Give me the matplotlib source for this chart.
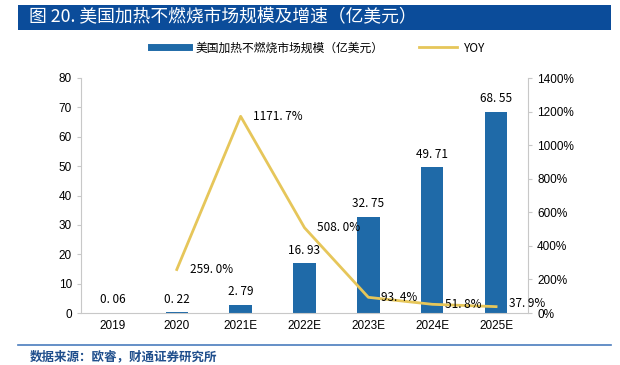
import matplotlib
matplotlib.use("Agg")
import matplotlib.pyplot as plt
from matplotlib.patches import Rectangle
from matplotlib.lines import Line2D

plt.rcParams['font.family'] = ['Liberation Sans', 'Noto Sans CJK SC', 'DejaVu Sans']

categories = ["2019", "2020", "2021E", "2022E", "2023E", "2024E", "2025E"]
market = [0.06, 0.22, 2.79, 16.93, 32.75, 49.71, 68.55]
yoy_cats = ["2020", "2021E", "2022E", "2023E", "2024E", "2025E"]
yoy = [259.0, 1171.7, 508.0, 93.4, 51.8, 37.9]
left_ticks = [0, 10, 20, 30, 40, 50, 60, 70, 80]
right_ticks = [0, 200, 400, 600, 800, 1000, 1200, 1400]

bar_color = "#1F6AA8"
line_color = "#E6C65A"
W, H = 620, 365
fig = plt.figure(figsize=(W/100, H/100), dpi=100)

# title bar
fig.patches.append(Rectangle((18/W, 1-30/H), (611-18)/W, 25/H, transform=fig.transFigure,
                             facecolor="#0B4C9A", edgecolor="none"))
fig.text(29/W, 1-17.5/H, "图 20. 美国加热不燃烧市场规模及增速（亿美元）", color="white",
         fontsize=12.8, fontweight="medium", va="center", ha="left",
         family=['Noto Sans CJK SC', 'DejaVu Sans'])
# bottom line + source
fig.add_artist(Line2D([18/W, 611/W], [1-345/H, 1-345/H], transform=fig.transFigure,
                      color="#4A7DBE", lw=1.2))
fig.text(30/W, 1-357/H, "数据来源：欧睿，财通证券研究所", color="#1F4E8C", fontsize=9,
         fontweight="bold", va="center", ha="left", family=['Noto Sans CJK SC', 'DejaVu Sans'])

ax = fig.add_axes([81/W, 1-313/H, (528-81)/W, (313-78)/H])
x = list(range(len(categories)))
ax.bar(x, market, width=0.35, color=bar_color, zorder=2)
ax.set_xlim(-0.5, len(categories)-0.5)
ax.set_ylim(0, 80)
ax.set_yticks(left_ticks)
ax.set_xticks(x)
ax.set_xticklabels(categories)
for s in ["top", "right"]:
    ax.spines[s].set_visible(False)
for s in ["left", "bottom"]:
    ax.spines[s].set_color("#C8C8C8")
ax.tick_params(axis="both", labelsize=8.5, color="#C8C8C8", length=3)
ax.tick_params(axis="x", length=0, pad=5)
for xi, v in zip(x, market):
    ax.text(xi, v + 2.2, f"{v:.2f}".replace(".", ". "), ha="center", va="bottom",
            fontsize=8.5, family=['Noto Sans CJK SC'])

ax2 = ax.twinx()
xi2 = [categories.index(c) for c in yoy_cats]
ax2.plot(xi2, yoy, color=line_color, lw=2, zorder=3)
ax2.set_ylim(0, 1400)
ax2.set_yticks(right_ticks)
ax2.set_yticklabels([f"{t}%" for t in right_ticks])
for s in ["top", "left", "bottom"]:
    ax2.spines[s].set_visible(False)
ax2.spines["right"].set_color("#C8C8C8")
ax2.tick_params(axis="y", labelsize=8.5, color="#C8C8C8", length=3)
for xv, v in zip(xi2, yoy):
    dy = 20 if xv == xi2[-1] else 0
    ax2.text(xv + 0.2, v + dy, f"{v:.1f}%".replace(".", ". "), ha="left", va="center",
             fontsize=8.5, family=['Noto Sans CJK SC'])

handles = [Line2D([], [], color=bar_color, lw=5),
           Line2D([], [], color=line_color, lw=2)]
fig.legend(handles, ["美国加热不燃烧市场规模（亿美元）", "YOY"], loc="center",
           bbox_to_anchor=(318/W, 1-48/H), ncol=2, frameon=False,
           handlelength=3.2, columnspacing=3.0, handletextpad=0.6,
           prop={'family': ['Noto Sans CJK SC'], 'size': 8.5})

fig.savefig("out.png", dpi=100)
